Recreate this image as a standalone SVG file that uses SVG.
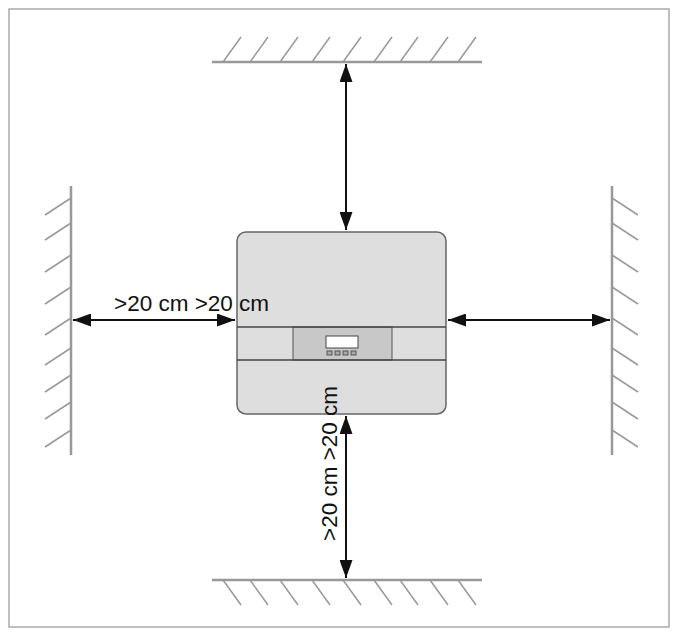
<svg xmlns="http://www.w3.org/2000/svg" width="679" height="637" viewBox="0 0 679 637">
<defs>
<marker id="ahb" markerWidth="18" markerHeight="13" refX="18" refY="6.5" orient="auto-start-reverse" markerUnits="userSpaceOnUse" viewBox="0 0 18 13"><path d="M0,0 L18,6.5 L0,13 Z" fill="#111"/></marker>
</defs>
<style>
.wall{stroke:#999;stroke-width:2.5;fill:none}
.hat{stroke:#999;stroke-width:1.5;fill:none}
.arr{stroke:#111;stroke-width:2;fill:none;marker-start:url(#ahb);marker-end:url(#ahb)}
.lbl{font-family:"Liberation Sans",Arial,sans-serif;font-size:22.5px;fill:#111}
</style>
<rect x="9" y="9" width="660" height="618" fill="#fff" stroke="#aaa" stroke-width="1.5"/>
<g id="wall-top">
<line class="wall" x1="212" y1="62" x2="482" y2="62"/>
<path class="hat" d="M223,62l18,-25M250,62l18,-25M280,62l18,-25M312,62l18,-25M343,62l18,-25M374,62l18,-25M400,62l18,-25M430,62l18,-25M458,62l18,-25"/>
</g>
<g id="wall-bottom">
<line class="wall" x1="212" y1="580" x2="482" y2="580"/>
<path class="hat" d="M223,580l18,25M250,580l18,25M280,580l18,25M312,580l18,25M343,580l18,25M374,580l18,25M400,580l18,25M430,580l18,25M458,580l18,25"/>
</g>
<g id="wall-left">
<line class="wall" x1="71" y1="186" x2="71" y2="455"/>
<path class="hat" d="M71,198l-26,17M71,223l-26,17M71,255l-26,17M71,287l-26,17M71,318l-26,17M71,348l-26,17M71,375l-26,17M71,402l-26,17M71,430l-26,17"/>
</g>
<g id="wall-right">
<line class="wall" x1="612" y1="186" x2="612" y2="455"/>
<path class="hat" d="M612,198l26,17M612,223l26,17M612,255l26,17M612,287l26,17M612,318l26,17M612,348l26,17M612,375l26,17M612,402l26,17M612,430l26,17"/>
</g>
<g id="inverter">
<rect x="237" y="232" width="209" height="182" rx="9" fill="#dedede" stroke="#666" stroke-width="1.5"/>
<rect x="293" y="327" width="99" height="33" fill="#c8c8c8" stroke="#555" stroke-width="1"/>
<line x1="237" y1="327" x2="446" y2="327" stroke="#444" stroke-width="1.5"/>
<line x1="237" y1="360" x2="446" y2="360" stroke="#444" stroke-width="1.5"/>
<rect x="326" y="336" width="32" height="12" fill="#fff" stroke="#444" stroke-width="1"/>
<g fill="#aaa" stroke="#555" stroke-width="1">
<rect x="327" y="351" width="5" height="4"/><rect x="335" y="351" width="5" height="4"/><rect x="343" y="351" width="5" height="4"/><rect x="351" y="351" width="5" height="4"/>
</g>
</g>
<g id="connectors">
<line class="arr" x1="346" y1="64" x2="346" y2="230"/>
<line class="arr" x1="346" y1="416" x2="346" y2="578"/>
<line class="arr" x1="73" y1="320" x2="235" y2="320"/>
<line class="arr" x1="448" y1="320" x2="610" y2="320"/>
</g>
<g id="labels">
<text class="lbl" x="114" y="311">&gt;20 cm &gt;20 cm</text>
<text class="lbl" transform="translate(337,541) rotate(-90)">&gt;20 cm &gt;20 cm</text>
</g>
</svg>
